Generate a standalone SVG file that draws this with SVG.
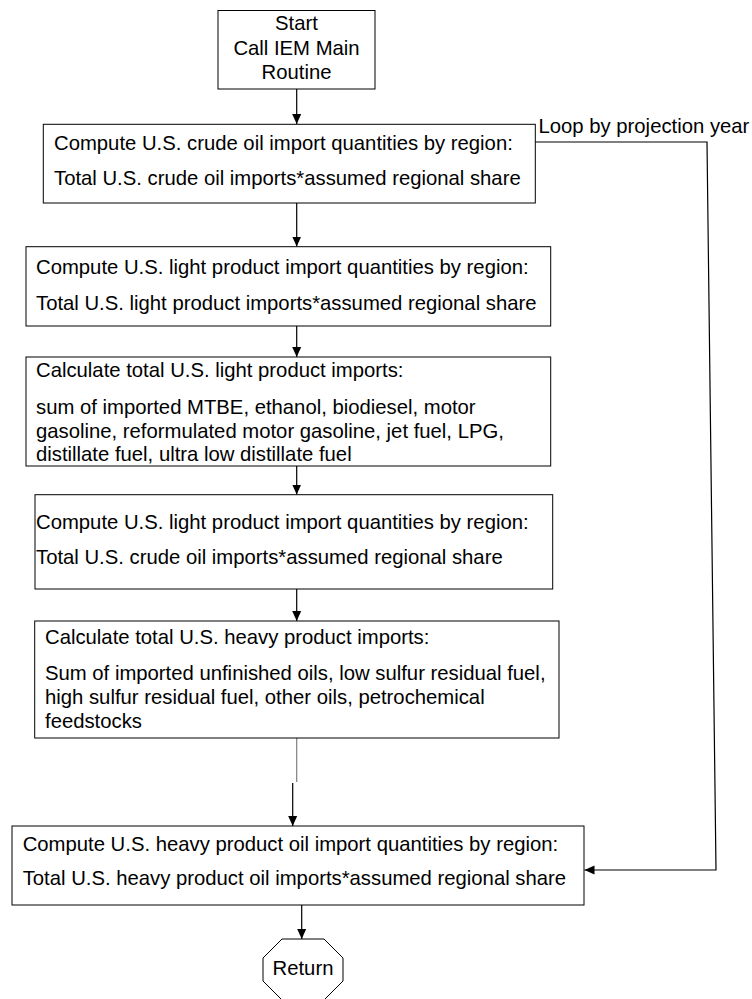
<svg xmlns="http://www.w3.org/2000/svg" width="752" height="999" viewBox="0 0 752 999">
<style>
  .box { fill: #ffffff; stroke: #000000; stroke-width: 1; }
  .t { font-family: "Liberation Sans", Arial, sans-serif; font-size: 20.3px; fill: #000000; }
  .c { text-anchor: middle; }
  .conn { fill: none; stroke: #000000; stroke-width: 1.2; }
  .gray { fill: none; stroke: #7f7f7f; stroke-width: 1.2; }
</style>
<defs>
  <marker id="ah" markerUnits="userSpaceOnUse" markerWidth="10" markerHeight="10" viewBox="0 0 10 10" refX="10" refY="5" orient="auto">
    <path d="M0,0.5 L10,5 L0,9.5 z" fill="#000000"/>
  </marker>
</defs>
<rect width="752" height="999" fill="#ffffff"/>

<g id="connectors">
  <line class="conn" x1="296.7" y1="89" x2="296.7" y2="124" marker-end="url(#ah)"/>
  <line class="conn" x1="296.7" y1="203" x2="296.7" y2="246.5" marker-end="url(#ah)"/>
  <line class="conn" x1="296.7" y1="326" x2="296.7" y2="357" marker-end="url(#ah)"/>
  <line class="conn" x1="296.7" y1="466" x2="296.7" y2="494.5" marker-end="url(#ah)"/>
  <line class="conn" x1="296.7" y1="589" x2="296.7" y2="621" marker-end="url(#ah)"/>
  <line class="gray" x1="296.7" y1="738" x2="296.7" y2="782"/>
  <line class="conn" x1="292.7" y1="783" x2="292.7" y2="826" marker-end="url(#ah)"/>
  <line class="conn" x1="301.7" y1="905" x2="301.7" y2="939" marker-end="url(#ah)"/>
  <polyline class="conn" points="535,142 707,142 716,870 584.5,870" marker-end="url(#ah)"/>
  <text class="t" x="538.5" y="133">Loop by projection year</text>
</g>

<g id="start">
  <rect class="box" x="218" y="10.5" width="157" height="78.5"/>
  <text class="t c" x="296.5" y="30">Start</text>
  <text class="t c" x="296.5" y="55">Call IEM Main</text>
  <text class="t c" x="296.5" y="79">Routine</text>
</g>

<g id="crude-by-region">
  <rect class="box" x="43.3" y="124.3" width="492" height="78.7"/>
  <text class="t" x="54" y="149.5">Compute U.S. crude oil import quantities by region:</text>
  <text class="t" x="54" y="185">Total U.S. crude oil imports*assumed regional share</text>
</g>

<g id="light-by-region">
  <rect class="box" x="26" y="246.7" width="524.7" height="79.3"/>
  <text class="t" x="36" y="274">Compute U.S. light product import quantities by region:</text>
  <text class="t" x="36" y="309.5">Total U.S. light product imports*assumed regional share</text>
</g>

<g id="light-total">
  <rect class="box" x="26" y="357" width="524.7" height="109"/>
  <text class="t" x="36" y="377">Calculate total U.S. light product imports:</text>
  <text class="t" x="36" y="414">sum of imported MTBE, ethanol, biodiesel, motor</text>
  <text class="t" x="36" y="437.5">gasoline, reformulated motor gasoline, jet fuel, LPG,</text>
  <text class="t" x="36" y="461">distillate fuel, ultra low distillate fuel</text>
</g>

<g id="light-by-region-2">
  <rect class="box" x="35" y="494.7" width="517.7" height="94.3"/>
  <text class="t" x="36" y="528.5">Compute U.S. light product import quantities by region:</text>
  <text class="t" x="36" y="563.5">Total U.S. crude oil imports*assumed regional share</text>
</g>

<g id="heavy-total">
  <rect class="box" x="34.7" y="621" width="524.3" height="117"/>
  <text class="t" x="45" y="644">Calculate total U.S. heavy product imports:</text>
  <text class="t" x="45" y="679.5">Sum of imported unfinished oils, low sulfur residual fuel,</text>
  <text class="t" x="45" y="704">high sulfur residual fuel, other oils, petrochemical</text>
  <text class="t" x="45" y="727.5">feedstocks</text>
</g>

<g id="heavy-by-region">
  <rect class="box" x="12" y="826" width="572" height="79"/>
  <text class="t" x="22.7" y="851">Compute U.S. heavy product oil import quantities by region:</text>
  <text class="t" x="22.7" y="885">Total U.S. heavy product oil imports*assumed regional share</text>
</g>

<g id="return">
  <polygon class="box" points="282,939 324,939 343,958 343,981 324,1000 282,1000 263,981 263,958"/>
  <text class="t c" x="303" y="975">Return</text>
</g>
</svg>
